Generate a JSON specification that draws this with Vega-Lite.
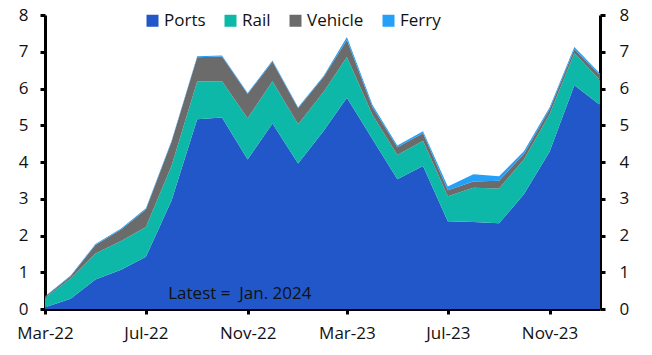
{
  "$schema": "https://vega.github.io/schema/vega-lite/v6.json",
  "width": 555,
  "height": 294,
  "autosize": {"type": "none"},
  "padding": {"left": 45, "top": 15, "right": 52, "bottom": 46},
  "background": "white",
  "config": {
    "view": {"stroke": null},
    "font": "Open Sans",
    "axis": {"grid": false, "labelFont": "Open Sans", "labelFontSize": 17, "labelColor": "#111111", "domainColor": "#000000", "domainWidth": 3, "tickColor": "#000000", "tickWidth": 3, "tickSize": 5, "title": null}
  },
  "data": {
    "values": [
      {"date": "2022-03-01", "Ports": 0.05, "Rail": 0.25, "Vehicle": 0.03, "Ferry": 0.02},
      {"date": "2022-04-01", "Ports": 0.28, "Rail": 0.55, "Vehicle": 0.06, "Ferry": 0.02},
      {"date": "2022-05-01", "Ports": 0.80, "Rail": 0.71, "Vehicle": 0.23, "Ferry": 0.03},
      {"date": "2022-06-01", "Ports": 1.07, "Rail": 0.78, "Vehicle": 0.31, "Ferry": 0.03},
      {"date": "2022-07-01", "Ports": 1.42, "Rail": 0.81, "Vehicle": 0.48, "Ferry": 0.03},
      {"date": "2022-08-01", "Ports": 2.95, "Rail": 0.95, "Vehicle": 0.65, "Ferry": 0.03},
      {"date": "2022-09-01", "Ports": 5.16, "Rail": 1.03, "Vehicle": 0.66, "Ferry": 0.03},
      {"date": "2022-10-01", "Ports": 5.21, "Rail": 0.99, "Vehicle": 0.67, "Ferry": 0.03},
      {"date": "2022-11-01", "Ports": 4.07, "Rail": 1.12, "Vehicle": 0.66, "Ferry": 0.03},
      {"date": "2022-12-01", "Ports": 5.05, "Rail": 1.15, "Vehicle": 0.53, "Ferry": 0.03},
      {"date": "2023-01-01", "Ports": 3.96, "Rail": 1.07, "Vehicle": 0.43, "Ferry": 0.03},
      {"date": "2023-02-01", "Ports": 4.85, "Rail": 1.06, "Vehicle": 0.41, "Ferry": 0.03},
      {"date": "2023-03-01", "Ports": 5.75, "Rail": 1.11, "Vehicle": 0.46, "Ferry": 0.08},
      {"date": "2023-04-01", "Ports": 4.62, "Rail": 0.66, "Vehicle": 0.21, "Ferry": 0.06},
      {"date": "2023-05-01", "Ports": 3.53, "Rail": 0.66, "Vehicle": 0.21, "Ferry": 0.05},
      {"date": "2023-06-01", "Ports": 3.89, "Rail": 0.69, "Vehicle": 0.20, "Ferry": 0.06},
      {"date": "2023-07-01", "Ports": 2.39, "Rail": 0.68, "Vehicle": 0.16, "Ferry": 0.10},
      {"date": "2023-08-01", "Ports": 2.37, "Rail": 0.93, "Vehicle": 0.17, "Ferry": 0.20},
      {"date": "2023-09-01", "Ports": 2.33, "Rail": 0.95, "Vehicle": 0.21, "Ferry": 0.12},
      {"date": "2023-10-01", "Ports": 3.12, "Rail": 0.95, "Vehicle": 0.15, "Ferry": 0.07},
      {"date": "2023-11-01", "Ports": 4.28, "Rail": 1.02, "Vehicle": 0.13, "Ferry": 0.05},
      {"date": "2023-12-01", "Ports": 6.09, "Rail": 0.87, "Vehicle": 0.11, "Ferry": 0.06},
      {"date": "2024-01-01", "Ports": 5.55, "Rail": 0.68, "Vehicle": 0.14, "Ferry": 0.04}
    ]
  },
  "transform": [
    {"fold": ["Ports", "Rail", "Vehicle", "Ferry"], "as": ["series", "value"]},
    {"lookup": "series", "from": {"data": {"values": [
      {"series": "Ports", "rank": 1},
      {"series": "Rail", "rank": 2},
      {"series": "Vehicle", "rank": 3},
      {"series": "Ferry", "rank": 4}
    ]}, "key": "series", "fields": ["rank"]}}
  ],
  "encoding": {
    "x": {
      "field": "date",
      "type": "temporal",
      "scale": {"type": "utc", "nice": false, "domain": [{"year": 2022, "month": 3, "date": 1, "utc": true}, {"year": 2024, "month": 1, "date": 1, "utc": true}]},
      "axis": {
        "format": "%b-%y",
        "values": [
          {"year": 2022, "month": 3, "date": 1, "utc": true},
          {"year": 2022, "month": 7, "date": 1, "utc": true},
          {"year": 2022, "month": 11, "date": 1, "utc": true},
          {"year": 2023, "month": 3, "date": 1, "utc": true},
          {"year": 2023, "month": 7, "date": 1, "utc": true},
          {"year": 2023, "month": 11, "date": 1, "utc": true}
        ],
        "labelPadding": 11,
        "labelOverlap": false,
        "labelFlush": false
      }
    }
  },
  "layer": [
    {
      "mark": {"type": "area", "interpolate": "linear"},
      "encoding": {
        "y": {
          "field": "value",
          "type": "quantitative",
          "stack": "zero",
          "scale": {"domain": [0, 8], "nice": false},
          "axis": {"orient": "left", "values": [0, 1, 2, 3, 4, 5, 6, 7, 8], "labelPadding": 12}
        },
        "order": {"field": "rank", "type": "quantitative", "sort": "ascending"},
        "color": {
          "field": "series",
          "type": "nominal",
          "sort": ["Ports", "Rail", "Vehicle", "Ferry"],
          "scale": {"domain": ["Ports", "Rail", "Vehicle", "Ferry"], "range": ["#2157C9", "#0DB8A9", "#6B6B6B", "#24A0F8"]},
          "legend": {
            "title": null,
            "orient": "none",
            "direction": "horizontal",
            "legendX": 99,
            "legendY": -3,
            "symbolType": "square",
            "symbolSize": 144,
            "symbolStrokeWidth": 0,
            "symbolOpacity": 1,
            "labelFont": "Open Sans",
            "labelFontSize": 17,
            "labelColor": "#111111",
            "labelOffset": 3,
            "columnPadding": 16
          }
        }
      }
    },
    {
      "mark": {"type": "point", "opacity": 0},
      "encoding": {
        "y": {
          "field": "value",
          "type": "quantitative",
          "scale": {"domain": [0, 8], "nice": false},
          "axis": {"orient": "right", "values": [0, 1, 2, 3, 4, 5, 6, 7, 8], "labelPadding": 14}
        }
      }
    },
    {
      "data": {"values": [{"date": "2022-07-28", "value": 0.4, "label": "Latest = \u00a0Jan. 2024"}]},
      "transform": [],
      "mark": {"type": "text", "align": "left", "baseline": "middle", "font": "Open Sans", "fontSize": 17, "color": "#111111"},
      "encoding": {
        "y": {"field": "value", "type": "quantitative", "axis": null},
        "text": {"field": "label"}
      }
    }
  ],
  "resolve": {"axis": {"y": "independent"}}
}
